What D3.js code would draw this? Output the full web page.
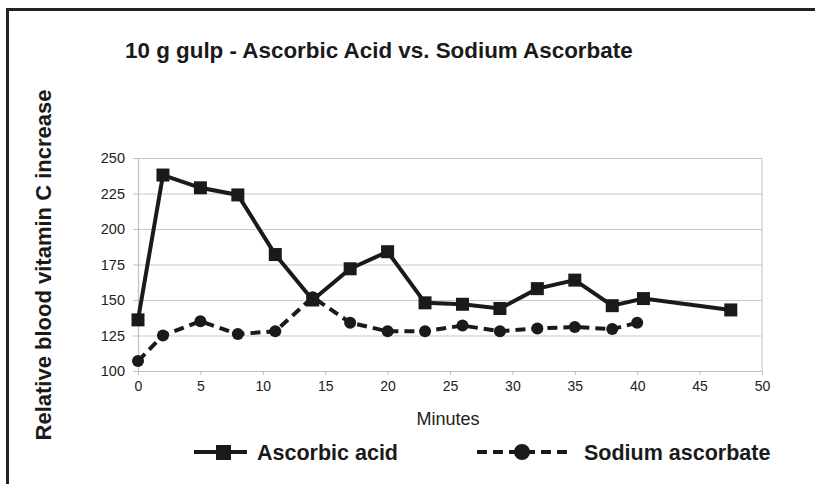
<!DOCTYPE html>
<html>
<head>
<meta charset="utf-8">
<script src="https://cdn.jsdelivr.net/npm/d3@7"></script>
<style>
  body { margin: 0; background: #fff; }
  svg { display: block; font-family: "Liberation Sans", Arial, sans-serif; }
</style>
</head>
<body>
<div id="chart"></div>
<script>
// Data
const acidMinutes = [0, 2, 5, 8, 11, 14, 17, 20, 23, 26, 29, 32, 35, 38, 40.5, 47.5];
const acidValues = [136, 238, 229, 224, 182, 150, 172, 184, 148, 147, 144, 158, 164, 146, 151, 143];
const sodiumMinutes = [0, 2, 5, 8, 11, 14, 17, 20, 23, 26, 29, 32, 35, 38, 40];
const sodiumValues = [107, 125, 135, 126, 128, 152, 134, 128, 128, 132, 128, 130, 131, 129.5, 134];
const xTicks = [0, 5, 10, 15, 20, 25, 30, 35, 40, 45, 50];
const yTicks = [100, 125, 150, 175, 200, 225, 250];

const W = 815, H = 484;
const margin = { top: 158, right: 53, bottom: 113, left: 138 };
const width = W - margin.left - margin.right;
const height = H - margin.top - margin.bottom;

const svg = d3.select('#chart').append('svg')
  .attr('width', W)
  .attr('height', H);

// outer frame (cut off on right and bottom like the scan)
svg.append('rect')
  .attr('x', 7.5).attr('y', 9.5)
  .attr('width', W + 10).attr('height', H + 10)
  .attr('fill', 'none')
  .attr('stroke', '#222')
  .attr('stroke-width', 3);

const g = svg.append('g')
  .attr('transform', `translate(${margin.left},${margin.top})`);

const x = d3.scaleLinear().domain([0, 50]).range([0, width]);
const y = d3.scaleLinear().domain([100, 250]).range([height, 0]);

// gridlines
g.append('g')
  .call(d3.axisLeft(y).tickValues(yTicks).tickSize(-width).tickFormat(''))
  .call(s => s.select('.domain').remove())
  .selectAll('line')
  .attr('stroke', '#c8c8c8')
  .attr('stroke-width', 1.2);

// right border of plot
g.append('line')
  .attr('x1', width).attr('x2', width)
  .attr('y1', 0).attr('y2', height)
  .attr('stroke', '#c8c8c8')
  .attr('stroke-width', 1.2);

// y axis
const yAxis = g.append('g')
  .call(d3.axisLeft(y).tickValues(yTicks).tickSize(5).tickSizeOuter(0).tickPadding(8));
yAxis.select('.domain').attr('stroke', '#c0c0c0').attr('stroke-width', 1.2);
yAxis.selectAll('line').attr('stroke', '#c0c0c0');
yAxis.selectAll('text').style('font-size', '14.5px').attr('fill', '#222');

// x axis
const xAxis = g.append('g')
  .attr('transform', `translate(0,${height})`)
  .call(d3.axisBottom(x).tickValues(xTicks).tickSize(4).tickSizeOuter(0).tickPadding(6));
xAxis.select('.domain').attr('stroke', '#c0c0c0').attr('stroke-width', 1.2);
xAxis.selectAll('line').attr('stroke', '#c0c0c0');
xAxis.selectAll('text').style('font-size', '14px').attr('fill', '#222');

const acid = acidMinutes.map((m, i) => ({ m, v: acidValues[i] }));
const sodium = sodiumMinutes.map((m, i) => ({ m, v: sodiumValues[i] }));

const line = d3.line().x(d => x(d.m)).y(d => y(d.v));

// sodium ascorbate (dashed, circles)
g.append('path')
  .datum(sodium)
  .attr('fill', 'none')
  .attr('stroke', '#1a1a1a')
  .attr('stroke-width', 4)
  .attr('stroke-dasharray', '10,6')
  .attr('d', line);

g.selectAll('.dot')
  .data(sodium)
  .join('circle')
  .attr('cx', d => x(d.m))
  .attr('cy', d => y(d.v))
  .attr('r', 6)
  .attr('fill', '#1a1a1a');

// ascorbic acid (solid, squares)
g.append('path')
  .datum(acid)
  .attr('fill', 'none')
  .attr('stroke', '#1a1a1a')
  .attr('stroke-width', 4)
  .attr('d', line);

g.selectAll('.sq')
  .data(acid)
  .join('rect')
  .attr('x', d => x(d.m) - 6.5)
  .attr('y', d => y(d.v) - 6.5)
  .attr('width', 13)
  .attr('height', 13)
  .attr('fill', '#1a1a1a');

// title
svg.append('text')
  .attr('x', 125)
  .attr('y', 58)
  .style('font-size', '22.4px')
  .style('font-weight', 'bold')
  .attr('fill', '#1a1a1a')
  .text('10 g gulp - Ascorbic Acid vs. Sodium Ascorbate');

// y axis title
svg.append('text')
  .attr('transform', 'translate(51,265) rotate(-90)')
  .attr('text-anchor', 'middle')
  .style('font-size', '22px')
  .style('font-weight', 'bold')
  .attr('fill', '#1a1a1a')
  .text('Relative blood vitamin C increase');

// x axis title
svg.append('text')
  .attr('x', margin.left + width / 2 - 2)
  .attr('y', 425)
  .attr('text-anchor', 'middle')
  .style('font-size', '18px')
  .attr('fill', '#222')
  .text('Minutes');

// legend
const legend = svg.append('g').attr('transform', 'translate(0,452)');

legend.append('line')
  .attr('x1', 194).attr('x2', 247)
  .attr('y1', 0).attr('y2', 0)
  .attr('stroke', '#1a1a1a').attr('stroke-width', 4);
legend.append('rect')
  .attr('x', 216).attr('y', -7)
  .attr('width', 15).attr('height', 15)
  .attr('fill', '#1a1a1a');
legend.append('text')
  .attr('x', 257).attr('y', 8)
  .style('font-size', '21.5px')
  .style('font-weight', 'bold')
  .attr('fill', '#1a1a1a')
  .text('Ascorbic acid');

legend.append('line')
  .attr('x1', 477).attr('x2', 572)
  .attr('y1', 0).attr('y2', 0)
  .attr('stroke', '#1a1a1a').attr('stroke-width', 4)
  .attr('stroke-dasharray', '10,6');
legend.append('circle')
  .attr('cx', 522).attr('cy', 0).attr('r', 8)
  .attr('fill', '#1a1a1a');
legend.append('text')
  .attr('x', 584).attr('y', 8)
  .style('font-size', '21.5px')
  .style('font-weight', 'bold')
  .attr('fill', '#1a1a1a')
  .text('Sodium ascorbate');
</script>
</body>
</html>
